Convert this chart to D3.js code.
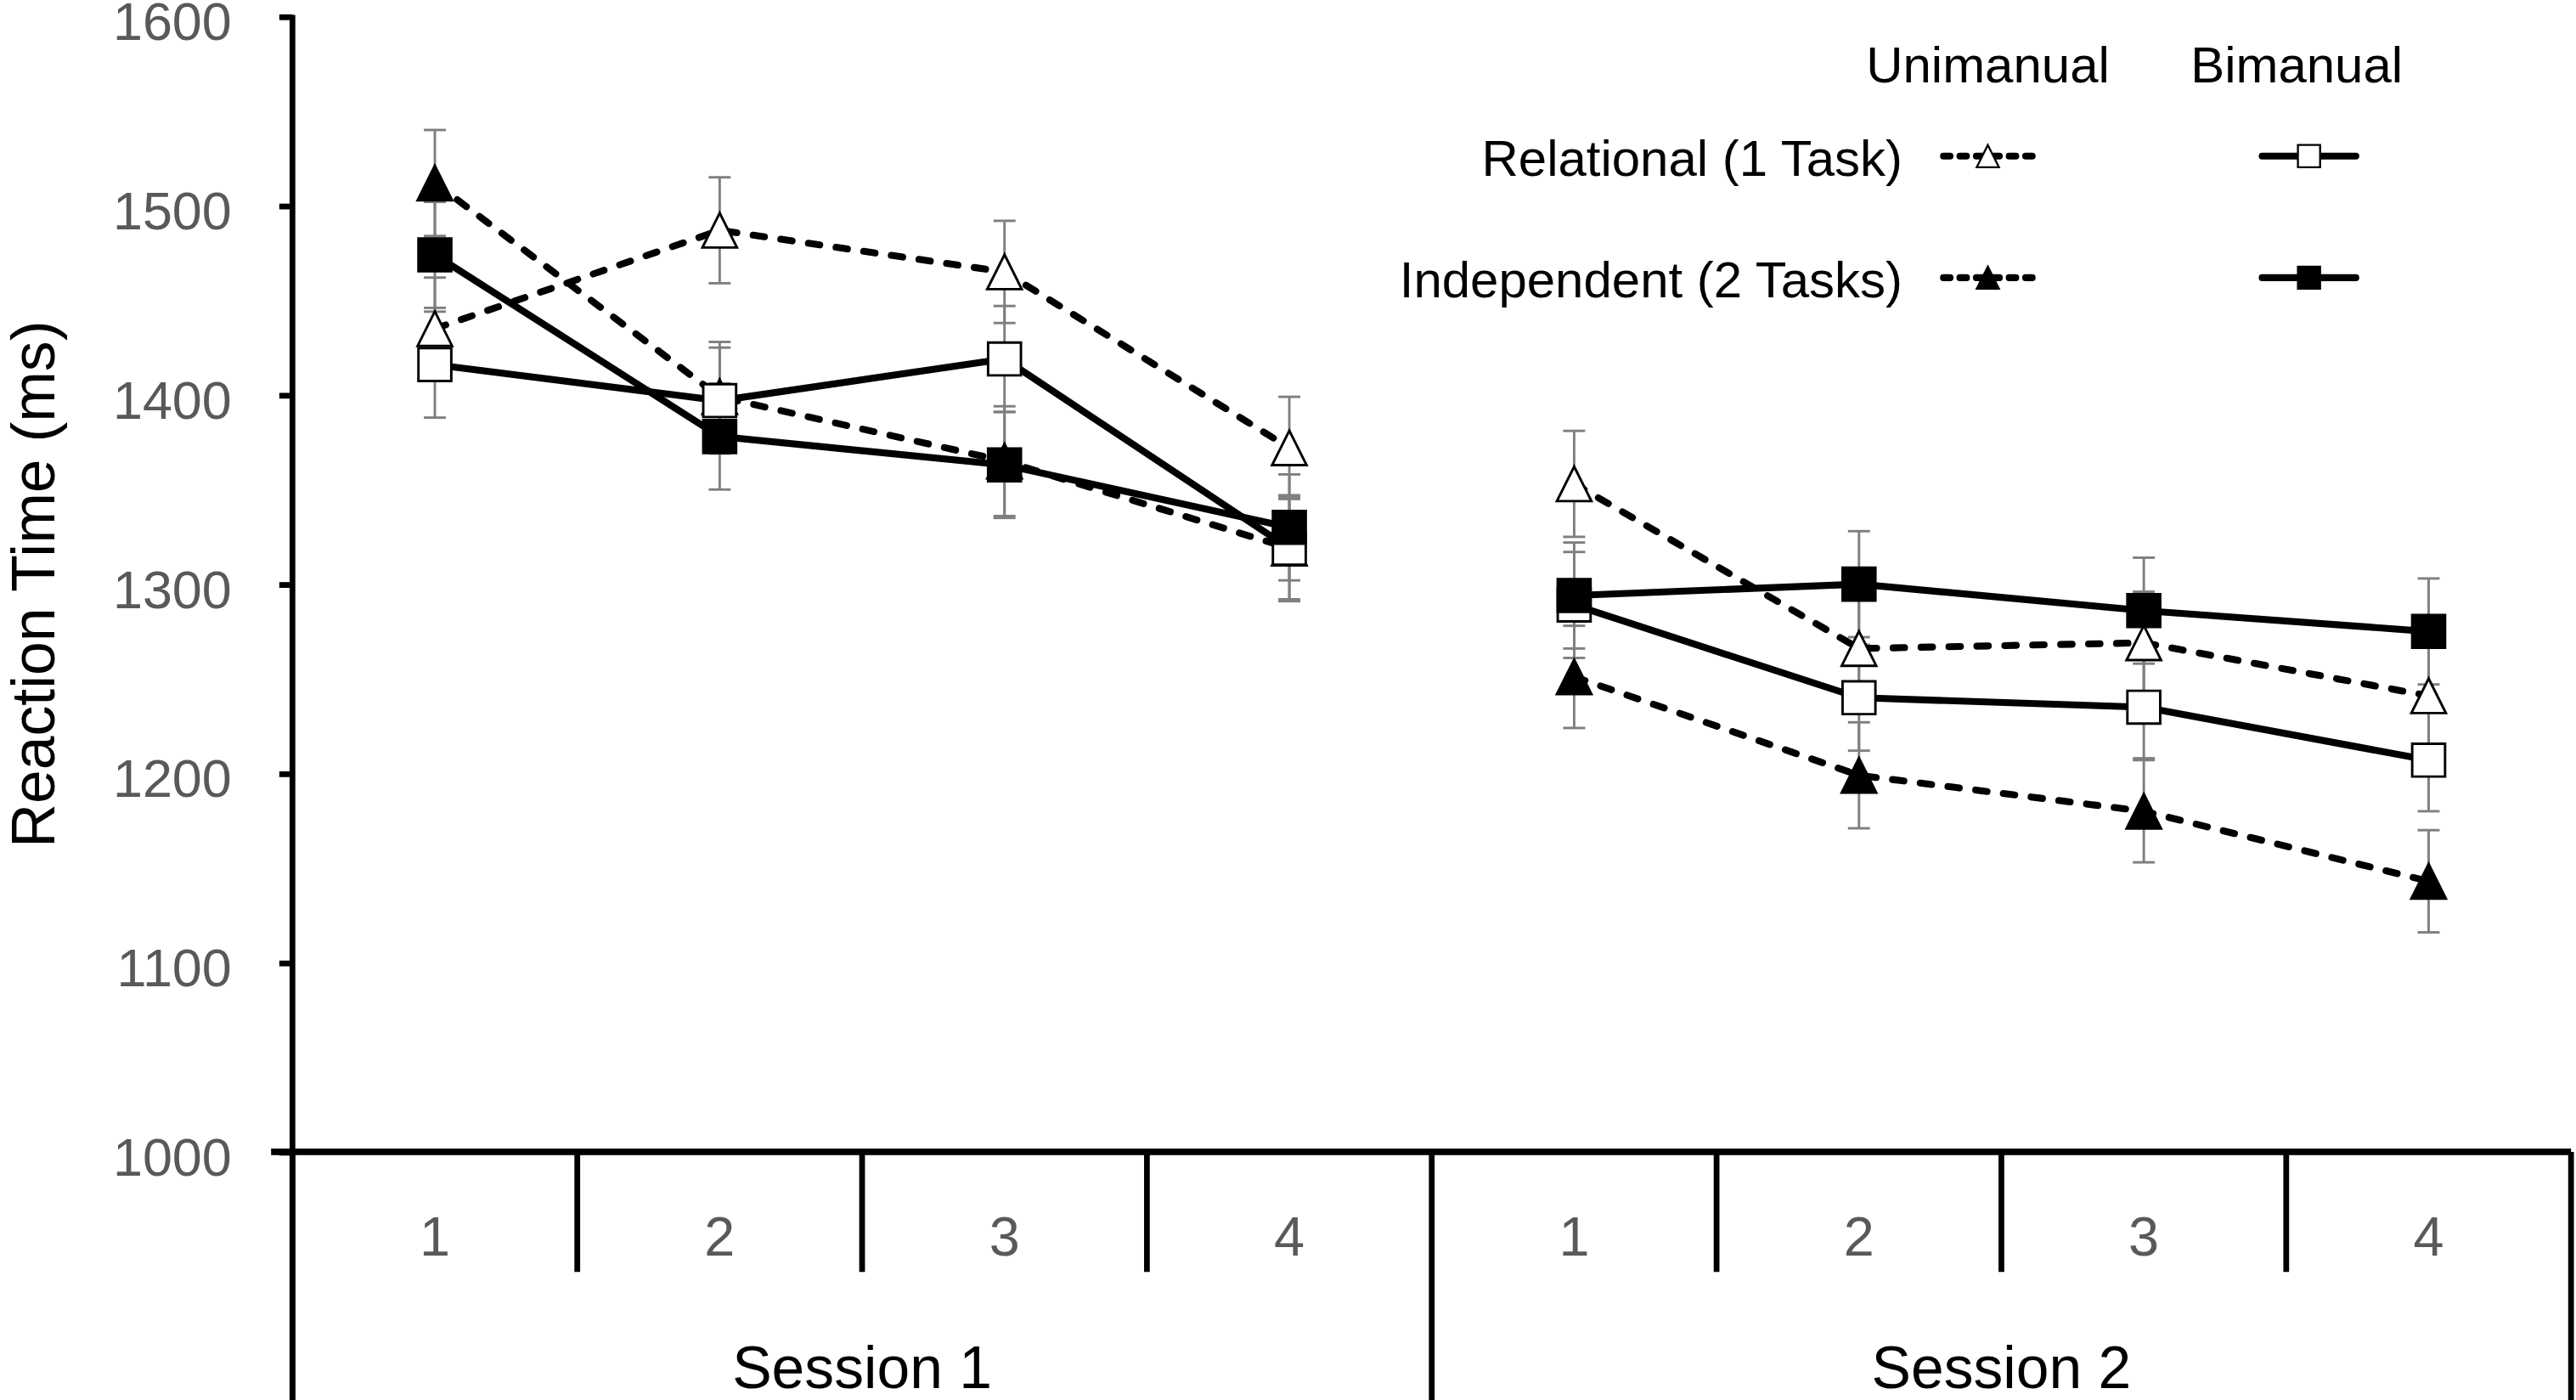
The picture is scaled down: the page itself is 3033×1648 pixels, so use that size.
<!DOCTYPE html>
<html>
<head>
<meta charset="utf-8">
<script src="https://cdn.jsdelivr.net/npm/d3@7"></script>
<style>
  html, body { margin: 0; padding: 0; background: #fff; }
  svg { display: block; }
</style>
</head>
<body>
<svg id="chart"></svg>
<script>
// categories
const sessions = ["Session 1", "Session 2"];
const blocks = ["1", "2", "3", "4"];
const yTicks = [1000, 1100, 1200, 1300, 1400, 1500, 1600];

// mean reaction time (ms), session 1 blocks 1-4 then session 2 blocks 1-4
const uniRelational = [1435, 1487, 1465, 1372, 1353, 1266, 1269, 1241];
const uniIndependent = [1512, 1399, 1365, 1319, 1251, 1199, 1180, 1143];
const biRelational = [1416, 1397, 1419, 1319, 1289, 1240, 1235, 1207];
const biIndependent = [1474, 1378, 1363, 1330, 1294, 1300, 1286, 1275];

// standard errors
const uniRelationalErr = [27, 28, 27, 27, 28, 27, 27, 27];
const uniIndependentErr = [28, 29, 29, 28, 27, 28, 27, 27];
const biRelationalErr = [28, 28, 28, 27, 28, 28, 27, 27];
const biIndependentErr = [28, 28, 28, 28, 28, 28, 28, 28];

// drawing is done in a 1568x852 coordinate box, scaled up to the window
const W = 1568, H = 852;
const svg = d3.select("#chart")
    .attr("width", 3033)
    .attr("height", 1648)
    .attr("viewBox", `0 0 ${W} ${H}`);

const font = "'Liberation Sans', Arial, sans-serif";
const grey = "#595959";

const plotLeft = 178, plotRight = 1565, plotTop = 10, plotBottom = 701;

// one band per session/block pair
const keys = [];
sessions.forEach((s, si) => blocks.forEach(b => keys.push(si + "-" + b)));

const x = d3.scaleBand().domain(keys).range([plotLeft, plotRight]).padding(0);
const y = d3.scaleLinear().domain([1000, 1600]).range([plotBottom, plotTop]);
const cx = k => x(k) + x.bandwidth() / 2;

// y axis
const yAxis = svg.append("g")
    .attr("transform", `translate(${plotLeft},0)`)
    .call(d3.axisLeft(y).tickValues(yTicks).tickFormat(d3.format("d"))
      .tickSize(8).tickSizeOuter(0).tickPadding(29));
yAxis.select(".domain").remove();
yAxis.selectAll(".tick line").attr("stroke", "#000").attr("stroke-width", 3.5);
yAxis.selectAll(".tick text")
    .attr("font-family", font).attr("font-size", 32.5).attr("fill", grey)
    .attr("dy", "0.43em");

svg.append("line")
    .attr("x1", plotLeft).attr("x2", plotLeft).attr("y1", plotTop - 1).attr("y2", H)
    .attr("stroke", "#000").attr("stroke-width", 3.5);

svg.append("text")
    .attr("transform", `translate(33,${(plotTop + plotBottom) / 2}) rotate(-90)`)
    .attr("text-anchor", "middle")
    .attr("font-family", font).attr("font-size", 37).attr("fill", "#000")
    .text("Reaction Time (ms)");

// x axis: block labels
const xAxis = svg.append("g")
    .attr("transform", `translate(0,${plotBottom})`)
    .call(d3.axisBottom(x).tickSize(0).tickPadding(0).tickFormat(k => k.split("-")[1]));
xAxis.select(".domain").remove();
xAxis.selectAll(".tick text")
    .attr("font-family", font).attr("font-size", 33.5).attr("fill", grey)
    .attr("y", 63).attr("dy", 0);

svg.append("line")
    .attr("x1", 165).attr("x2", plotRight).attr("y1", plotBottom).attr("y2", plotBottom)
    .attr("stroke", "#000").attr("stroke-width", 4);

// dividers between blocks (short) and sessions (long)
const edges = keys.map(k => x(k)).concat([plotRight]);
svg.append("g").selectAll("line")
    .data(edges)
    .join("line")
    .attr("x1", d => d).attr("x2", d => d)
    .attr("y1", plotBottom)
    .attr("y2", (d, i) => i % blocks.length === 0 ? H : 774)
    .attr("stroke", "#000").attr("stroke-width", 3.5);

svg.append("g").selectAll("text")
    .data(sessions)
    .join("text")
    .attr("x", (d, i) => (x(i + "-" + blocks[0]) + x(i + "-" + blocks[blocks.length - 1]) + x.bandwidth()) / 2)
    .attr("y", 845)
    .attr("text-anchor", "middle")
    .attr("font-family", font).attr("font-size", 36).attr("fill", "#000")
    .text(d => d);

// series
const series = [
  { name: "uniRel", values: uniRelational, err: uniRelationalErr, dashed: true, shape: "tri", filled: false },
  { name: "uniInd", values: uniIndependent, err: uniIndependentErr, dashed: true, shape: "tri", filled: true },
  { name: "biRel", values: biRelational, err: biRelationalErr, dashed: false, shape: "sq", filled: false },
  { name: "biInd", values: biIndependent, err: biIndependentErr, dashed: false, shape: "sq", filled: true }
];

function markerPath(shape, s) {
  const h = s / 2;
  if (shape === "tri") return `M0,${-h}L${h},${h}L${-h},${h}Z`;
  return `M${-h},${-h}H${h}V${h}H${-h}Z`;
}

// error bars first
series.forEach(sr => {
  const g = svg.append("g").attr("stroke", "#7f7f7f").attr("stroke-width", 1.5);
  keys.forEach((k, i) => {
    const v = sr.values[i], e = sr.err[i];
    g.append("line").attr("x1", cx(k)).attr("x2", cx(k)).attr("y1", y(v - e)).attr("y2", y(v + e));
    [v - e, v + e].forEach(t => {
      g.append("line").attr("x1", cx(k) - 6.7).attr("x2", cx(k) + 6.7).attr("y1", y(t)).attr("y2", y(t));
    });
  });
});

const line = d3.line().x(d => cx(d.k)).y(d => y(d.v));

series.forEach(sr => {
  sessions.forEach((s, si) => {
    const pts = blocks.map((b, bi) => ({ k: si + "-" + b, v: sr.values[si * blocks.length + bi] }));
    svg.append("path")
      .datum(pts)
      .attr("d", line)
      .attr("fill", "none")
      .attr("stroke", "#000")
      .attr("stroke-width", 4.2)
      .attr("stroke-linecap", sr.dashed ? "round" : "butt")
      .attr("stroke-dasharray", sr.dashed ? "7,10" : null);
  });
});

series.forEach(sr => {
  svg.append("g").selectAll("path")
    .data(keys.map((k, i) => ({ k, v: sr.values[i] })))
    .join("path")
    .attr("transform", d => `translate(${cx(d.k)},${y(d.v)})`)
    .attr("d", markerPath(sr.shape, sr.shape === "tri" ? 21 : 20))
    .attr("fill", sr.filled ? "#000" : "#fff")
    .attr("stroke", "#000")
    .attr("stroke-width", 1.5);
});

// legend
const legend = svg.append("g").attr("font-family", font).attr("font-size", 31).attr("fill", "#000");
legend.append("text").attr("x", 1210).attr("y", 50).attr("text-anchor", "middle").text("Unimanual");
legend.append("text").attr("x", 1398).attr("y", 50).attr("text-anchor", "middle").text("Bimanual");

const legendRows = [
  { label: "Relational (1 Task)", y: 95, uni: series[0], bi: series[2] },
  { label: "Independent (2 Tasks)", y: 169, uni: series[1], bi: series[3] }
];
legendRows.forEach(r => {
  legend.append("text").attr("x", 1158).attr("y", r.y + 12).attr("text-anchor", "end").text(r.label);
  [[r.uni, 1183, 1237], [r.bi, 1377, 1434]].forEach(([sr, x1, x2]) => {
    legend.append("line")
      .attr("x1", x1).attr("x2", x2).attr("y1", r.y).attr("y2", r.y)
      .attr("stroke", "#000").attr("stroke-width", 4.2)
      .attr("stroke-linecap", "round")
      .attr("stroke-dasharray", sr.dashed ? "4,6" : null);
    legend.append("path")
      .attr("transform", `translate(${(x1 + x2) / 2},${r.y})`)
      .attr("d", markerPath(sr.shape, 13.5))
      .attr("fill", sr.filled ? "#000" : "#fff")
      .attr("stroke", "#000").attr("stroke-width", 1.2);
  });
});
</script>
</body>
</html>
